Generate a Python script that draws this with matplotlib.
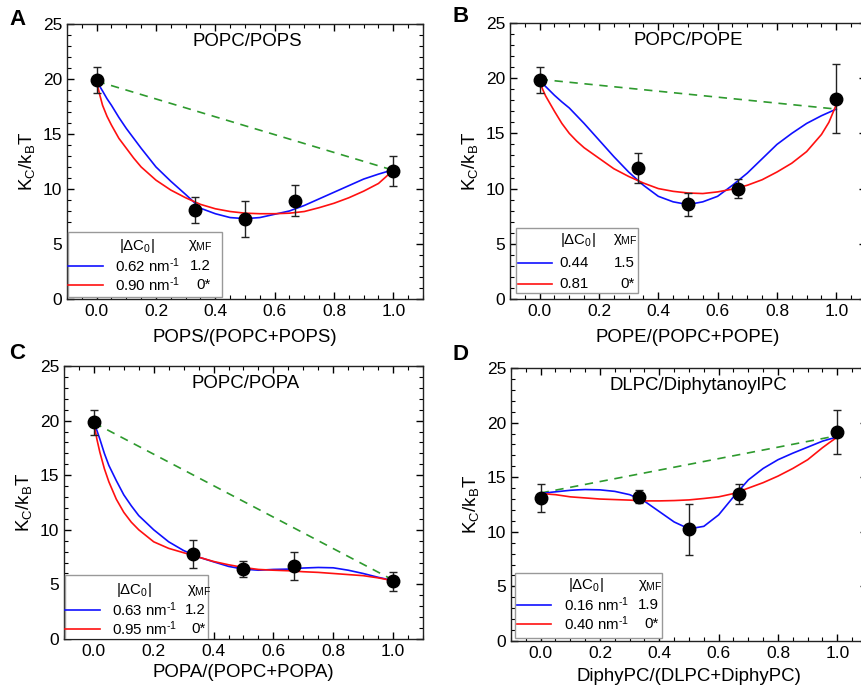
import numpy as np
import matplotlib
matplotlib.use('Agg')
import matplotlib.pyplot as plt
from matplotlib.ticker import MultipleLocator
from matplotlib.patches import Rectangle

plt.rcParams['font.family'] = ['Liberation Sans', 'DejaVu Sans']
plt.rcParams['mathtext.fontset'] = 'custom'
plt.rcParams['mathtext.rm'] = 'Liberation Sans'
plt.rcParams['mathtext.it'] = 'Liberation Sans'
plt.rcParams['mathtext.bf'] = 'Liberation Sans:bold'

###################################################################
#                           Data
###################################################################
x_pts = [0.0, 0.33, 0.5, 0.67, 1.0]
x_fit = [0.0, 0.01, 0.02, 0.035, 0.05, 0.075, 0.1, 0.125, 0.15, 0.2, 0.25, 0.3,
         0.35, 0.4, 0.45, 0.5, 0.55, 0.6, 0.65, 0.7, 0.75, 0.8, 0.85, 0.9,
         0.95, 0.975, 1.0]

# A: POPC/POPS
a_y = [19.9, 8.1, 7.3, 8.95, 11.65]
a_err = [1.2, 1.2, 1.65, 1.4, 1.35]
a_ideal = [19.8, 11.7]
a_blue = [19.8, 19.35, 18.9, 18.2, 17.6, 16.5, 15.5, 14.6, 13.7, 12.0, 10.7, 9.5,
          8.25, 7.75, 7.4, 7.3, 7.4, 7.7, 8.0, 8.5, 9.1, 9.7, 10.3, 10.9,
          11.35, 11.55, 11.75]
a_red = [19.8, 18.6, 17.6, 16.6, 15.8, 14.6, 13.7, 12.8, 12.0, 10.8, 9.9, 9.2,
         8.6, 8.2, 7.95, 7.8, 7.75, 7.75, 7.8, 7.95, 8.3, 8.7, 9.2, 9.8,
         10.5, 11.1, 11.75]

# B: POPC/POPE
b_y = [19.85, 11.85, 8.6, 10.0, 18.15]
b_err = [1.15, 1.33, 1.04, 0.85, 3.13]
b_ideal = [19.9, 17.2]
b_blue = [19.8, 19.55, 19.25, 18.85, 18.45, 17.85, 17.3, 16.6, 15.9, 14.4, 12.9, 11.5,
          10.3, 9.3, 8.8, 8.55, 8.8, 9.3, 10.3, 11.4, 12.7, 14.0, 15.0, 15.9,
          16.6, 16.9, 17.2]
b_red = [19.8, 19.0, 18.4, 17.7, 17.0, 15.9, 15.0, 14.3, 13.7, 12.75, 11.8, 11.1,
         10.5, 10.0, 9.75, 9.6, 9.55, 9.7, 9.95, 10.3, 10.8, 11.5, 12.3, 13.35,
         14.9, 16.0, 17.6]

# C: POPC/POPA
c_y = [19.85, 7.8, 6.4, 6.7, 5.3]
c_err = [1.15, 1.3, 0.75, 1.27, 0.88]
c_ideal = [19.8, 5.4]
c_blue = [19.8, 19.1, 18.3, 17.0, 15.9, 14.5, 13.2, 12.2, 11.3, 10.0, 8.9, 8.1,
          7.5, 7.07, 6.65, 6.4, 6.3, 6.37, 6.4, 6.5, 6.55, 6.52, 6.3, 6.0,
          5.65, 5.5, 5.33]
c_red = [19.8, 18.3, 17.1, 15.6, 14.4, 12.8, 11.6, 10.7, 10.0, 8.9, 8.3, 7.9,
         7.5, 7.1, 6.8, 6.55, 6.37, 6.3, 6.25, 6.16, 6.1, 6.0, 5.9, 5.8,
         5.6, 5.47, 5.33]

# D: DLPC/DiphytanoylPC
d_y = [13.1, 13.2, 10.25, 13.45, 19.15]
d_err = [1.3, 0.6, 2.33, 0.93, 2.03]
d_ideal = [13.55, 18.8]
d_blue = [13.5, 13.53, 13.56, 13.62, 13.66, 13.73, 13.8, 13.84, 13.87, 13.84, 13.7, 13.4,
          12.8, 11.85, 10.9, 10.27, 10.5, 11.55, 13.2, 14.75, 15.8, 16.6, 17.2, 17.75,
          18.3, 18.5, 18.67]
d_red = [13.5, 13.49, 13.47, 13.43, 13.4, 13.3, 13.2, 13.15, 13.1, 13.0, 12.95, 12.9,
         12.83, 12.83, 12.86, 12.92, 13.05, 13.2, 13.5, 14.0, 14.5, 15.1, 15.8, 16.6,
         17.7, 18.2, 18.67]

titles = ['POPC/POPS', 'POPC/POPE', 'POPC/POPA', 'DLPC/DiphytanoylPC']
xlabels = ['POPS/(POPC+POPS)', 'POPE/(POPC+POPE)', 'POPA/(POPC+POPA)',
           'DiphyPC/(DLPC+DiphyPC)']
letters = ['A', 'B', 'C', 'D']
blue_dc = [r'0.62 nm$^{\text{-1}}$', '0.44', r'0.63 nm$^{\text{-1}}$', r'0.16 nm$^{\text{-1}}$']
red_dc = [r'0.90 nm$^{\text{-1}}$', '0.81', r'0.95 nm$^{\text{-1}}$', r'0.40 nm$^{\text{-1}}$']
blue_chi = ['1.2', '1.5', '1.2', '1.9']
red_chi = ['0*', '0*', '0*', '0*']

#------------------------------------------------------------------
# axes rectangles (fig fraction) and legend layout (axes fraction)
axes_rect = [[0.0777, 0.5667, 0.413, 0.3986],
             [0.5916, 0.5667, 0.413, 0.400],
             [0.0742, 0.0739, 0.4165, 0.3957],
             [0.5928, 0.0710, 0.413, 0.3957]]
# box x0, x1, y0, y1, header y, row1 y, row2 y, line x0, x1, text x, chi x, num right
leg = [[0.003, 0.435, 0.007, 0.244, 0.194, 0.121, 0.051, 0.003, 0.10, 0.135, 0.34, 0.404],
       [0.017, 0.360, 0.022, 0.257, 0.214, 0.130, 0.054, 0.023, 0.118, 0.14, 0.29, 0.350],
       [0.003, 0.400, 0.000, 0.234, 0.179, 0.106, 0.037, 0.003, 0.10, 0.134, 0.342, 0.395],
       [0.011, 0.424, 0.011, 0.249, 0.205, 0.132, 0.062, 0.017, 0.112, 0.149, 0.357, 0.416]]
dc_hdr_x = [0.145, 0.14, 0.145, 0.16]
title_x = [0.506, 0.5, 0.507, 0.525]
xlabel_pad = [7, 7, 4, 5]
letter_xy = [(-0.139, 1.016), (-0.138, 1.022), (-0.131, 1.044), (-0.143, 1.051)]
leg_fs = 10.8

ys = [a_y, b_y, c_y, d_y]
errs = [a_err, b_err, c_err, d_err]
ideals = [a_ideal, b_ideal, c_ideal, d_ideal]
blues = [a_blue, b_blue, c_blue, d_blue]
reds = [a_red, b_red, c_red, d_red]

fig = plt.figure(figsize=(8.62, 6.90), dpi=100)

for k in range(4):
    ax = fig.add_axes(axes_rect[k])
    ax.plot([0, 1], ideals[k], color='#2e9a2e', lw=1.2, ls=(0, (5, 4)), zorder=2)
    ax.plot(x_fit, blues[k], color='#1010ff', lw=1.2, zorder=3)
    ax.plot(x_fit, reds[k], color='#ff1010', lw=1.2, zorder=3)
    ax.errorbar(x_pts, ys[k], yerr=errs[k], fmt='o', color='black', ms=9,
                ecolor='#222222', elinewidth=1.0, capsize=3, capthick=1.0, zorder=4)

    ax.set_xlim(-0.1, 1.1)
    ax.set_ylim(0, 25)
    ax.xaxis.set_major_locator(MultipleLocator(0.2))
    ax.xaxis.set_minor_locator(MultipleLocator(0.05))
    ax.yaxis.set_major_locator(MultipleLocator(5))
    ax.yaxis.set_minor_locator(MultipleLocator(1))
    ax.tick_params(which='both', direction='in', top=True, right=True, labelsize=12.5)
    ax.tick_params(which='major', length=5, width=1)
    ax.tick_params(which='minor', length=3, width=0.8)
    for s in ax.spines.values():
        s.set_linewidth(1.0)
        s.set_color('#222222')
    ax.set_xticklabels([f'{v:.1f}' for v in ax.get_xticks()])

    ax.set_xlabel(xlabels[k], fontsize=13.4, labelpad=xlabel_pad[k])
    ax.set_ylabel('$K_C/k_BT$', fontsize=13.5, labelpad=4)
    ax.text(title_x[k], 0.935, titles[k], transform=ax.transAxes,
            ha='center', va='center', fontsize=13.4)
    ax.text(letter_xy[k][0], letter_xy[k][1], letters[k], transform=ax.transAxes,
            ha='center', va='center', fontsize=16, fontweight='bold')

    # legend drawn by hand -----------------------------------------
    L = leg[k]
    ax.add_patch(Rectangle((L[0], L[2]), L[1] - L[0], L[3] - L[2], transform=ax.transAxes,
                           facecolor='white', edgecolor='#999999', lw=1.0, zorder=5))
    ax.text(dc_hdr_x[k], L[4], r'|$\Delta$C$_0$|', transform=ax.transAxes,
            ha='left', va='center', fontsize=leg_fs, zorder=6)
    ax.text(L[10], L[4], r'$\chi_{\mathrm{MF}}$', transform=ax.transAxes,
            ha='left', va='center', fontsize=leg_fs, zorder=6)
    ax.plot([L[7], L[8]], [L[5], L[5]], color='#1010ff', lw=1.2, transform=ax.transAxes, zorder=6)
    ax.plot([L[7], L[8]], [L[6], L[6]], color='#ff1010', lw=1.2, transform=ax.transAxes, zorder=6)
    ax.text(L[9], L[5], blue_dc[k], transform=ax.transAxes, ha='left', va='center',
            fontsize=leg_fs, zorder=6)
    ax.text(L[9], L[6], red_dc[k], transform=ax.transAxes, ha='left', va='center',
            fontsize=leg_fs, zorder=6)
    ax.text(L[11], L[5], blue_chi[k], transform=ax.transAxes, ha='right', va='center',
            fontsize=leg_fs, zorder=6)
    ax.text(L[11], L[6], red_chi[k], transform=ax.transAxes, ha='right', va='center',
            fontsize=leg_fs, zorder=6)

fig.savefig('out.png', dpi=100)
